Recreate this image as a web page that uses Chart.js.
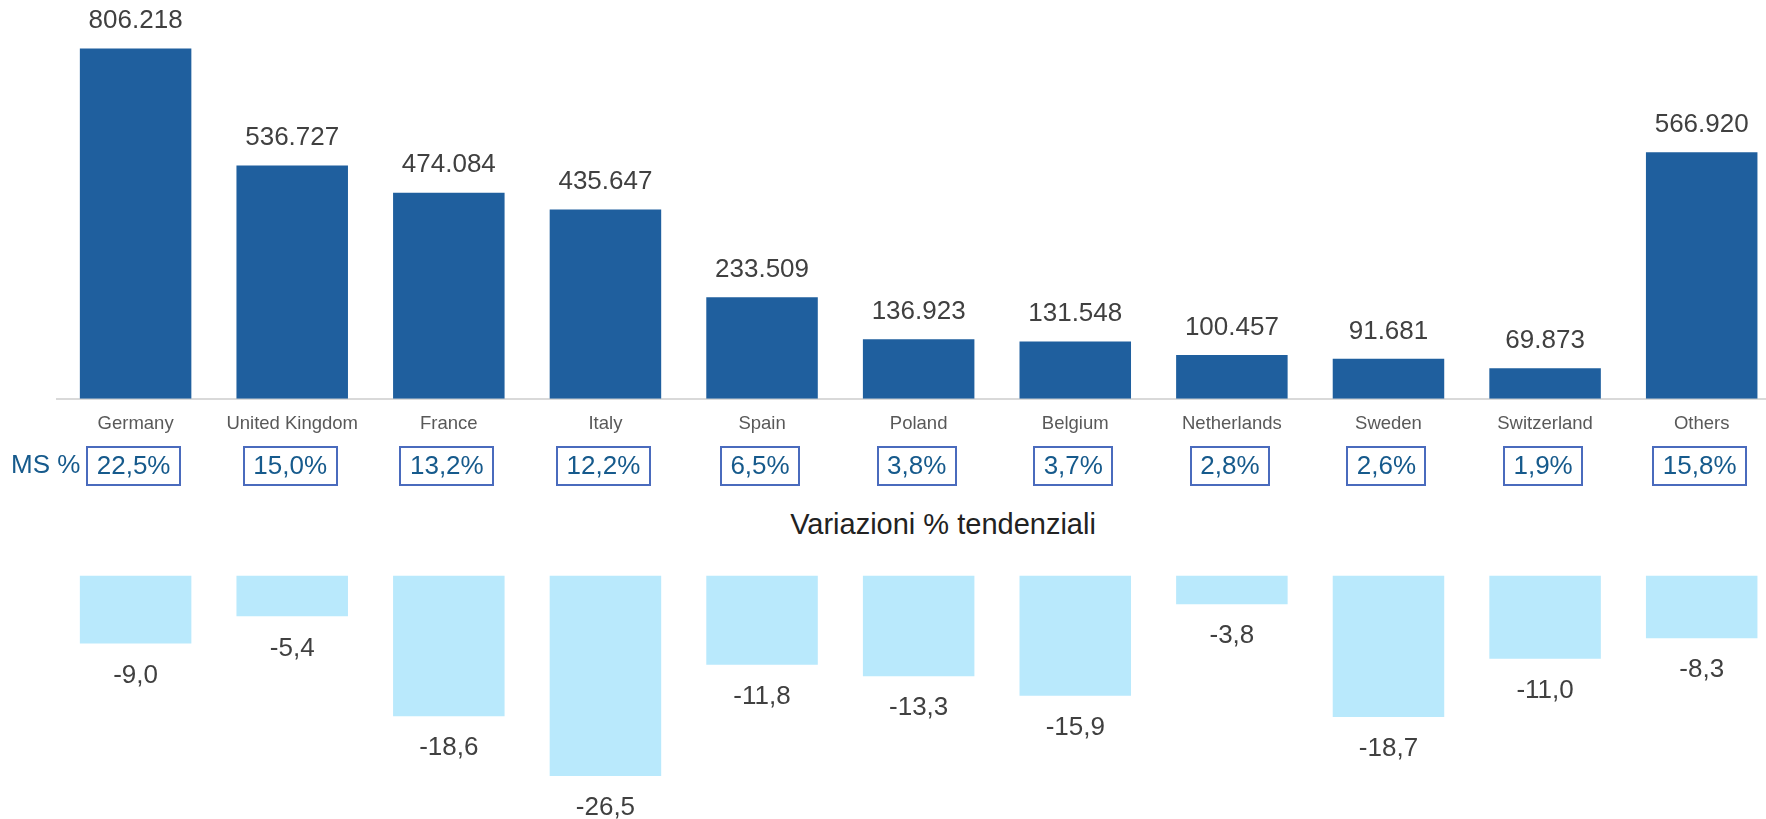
<!DOCTYPE html>
<html>
<head>
<meta charset="utf-8">
<script src="https://cdn.jsdelivr.net/npm/chart.js@4"></script>
<style>
  html, body { margin: 0; padding: 0; background: #fff; }
  #wrap { position: relative; width: 1766px; height: 819px; overflow: hidden; background: #fff; }
  #topChart { position: absolute; left: 0; top: 0; }
  #bottomChart { position: absolute; left: 0; top: 540px; }
  #subtitle {
    position: absolute; left: 643px; top: 507px; width: 600px; text-align: center;
    font-family: "Liberation Sans", Arial, sans-serif; font-size: 29px; line-height: 34px; color: #222;
  }
</style>
</head>
<body>
<div id="wrap">
  <canvas id="topChart" width="1780" height="500"></canvas>
  <div id="subtitle">Variazioni % tendenziali</div>
  <canvas id="bottomChart" width="1780" height="279"></canvas>
</div>
<script>
// data
const countries = ["Germany", "United Kingdom", "France", "Italy", "Spain", "Poland",
  "Belgium", "Netherlands", "Sweden", "Switzerland", "Others"];
const registrations = [806218, 536727, 474084, 435647, 233509, 136923, 131548, 100457, 91681, 69873, 566920];
const marketShare = [22.5, 15.0, 13.2, 12.2, 6.5, 3.8, 3.7, 2.8, 2.6, 1.9, 15.8];
const variation = [-9.0, -5.4, -18.6, -26.5, -11.8, -13.3, -15.9, -3.8, -18.7, -11.0, -8.3];

const FONT = '"Liberation Sans", Arial, sans-serif';

// 806218 -> "806.218"
function fmtThousands(v) {
  return String(v).replace(/\B(?=(\d{3})+(?!\d))/g, ".");
}
// -9 -> "-9,0"
function fmtDecimal(v) {
  return v.toFixed(1).replace(".", ",");
}

// value labels above the dark bars
const topLabels = {
  id: "topLabels",
  afterDatasetsDraw(chart) {
    const ctx = chart.ctx;
    const meta = chart.getDatasetMeta(0);
    ctx.save();
    ctx.font = "26px " + FONT;
    ctx.fillStyle = "#404040";
    ctx.textAlign = "center";
    ctx.textBaseline = "middle";
    meta.data.forEach((bar, i) => {
      ctx.fillText(fmtThousands(registrations[i]), bar.x, bar.y - 27.5);
    });
    ctx.restore();
  }
};

// MS % boxes under the category labels
const shareBoxes = {
  id: "shareBoxes",
  afterDraw(chart) {
    const ctx = chart.ctx;
    const xs = chart.scales.x;
    const y = 466;
    ctx.save();
    ctx.font = "26px " + FONT;
    ctx.textBaseline = "middle";
    ctx.fillStyle = "#165a8c";
    ctx.textAlign = "left";
    ctx.fillText("MS %", 11, y);
    ctx.textAlign = "center";
    marketShare.forEach((v, i) => {
      const txt = fmtDecimal(v) + "%";
      const x = xs.getPixelForValue(i) - 2;
      const w = ctx.measureText(txt).width + 19;
      ctx.strokeStyle = "#4a6bbd";
      ctx.lineWidth = 2;
      ctx.strokeRect(Math.round(x - w / 2), y - 19, Math.round(w), 38);
      ctx.fillStyle = "#165a8c";
      ctx.fillText(txt, x, y + 1);
    });
    ctx.restore();
  }
};

// value labels under the light bars
const bottomLabels = {
  id: "bottomLabels",
  afterDatasetsDraw(chart) {
    const ctx = chart.ctx;
    const meta = chart.getDatasetMeta(0);
    ctx.save();
    ctx.font = "26px " + FONT;
    ctx.fillStyle = "#404040";
    ctx.textAlign = "center";
    ctx.textBaseline = "middle";
    meta.data.forEach((bar, i) => {
      ctx.fillText(fmtDecimal(variation[i]), bar.x, bar.y + 32);
    });
    ctx.restore();
  }
};

const topChart = new Chart(document.getElementById("topChart").getContext("2d"), {
  type: "bar",
  data: {
    labels: countries,
    datasets: [{
      data: registrations,
      backgroundColor: "#1f5f9e",
      categoryPercentage: 1,
      barPercentage: 0.712
    }]
  },
  options: {
    responsive: false,
    animation: false,
    layout: { padding: { left: 57.3, right: 0, top: 0, bottom: 0 } },
    plugins: { legend: { display: false }, tooltip: { enabled: false } },
    scales: {
      x: {
        grid: { display: false, drawTicks: false },
        border: { display: true, color: "#d9d9d9", width: 2 },
        ticks: { color: "#595959", font: { family: FONT, size: 18.5 }, padding: 14, maxRotation: 0, autoSkip: false },
        afterFit(scale) { scale.height = 101.3; }
      },
      y: { display: false, min: 0, max: 917600 }
    }
  },
  plugins: [topLabels, shareBoxes]
});

const bottomChart = new Chart(document.getElementById("bottomChart").getContext("2d"), {
  type: "bar",
  data: {
    labels: countries,
    datasets: [{
      data: variation,
      backgroundColor: "#b9e9fc",
      categoryPercentage: 1,
      barPercentage: 0.712
    }]
  },
  options: {
    responsive: false,
    animation: false,
    layout: { padding: { left: 57.3, right: 0, top: 35.5, bottom: 0 } },
    plugins: { legend: { display: false }, tooltip: { enabled: false } },
    scales: {
      x: { display: false },
      y: { display: false, min: -32.17, max: 0 }
    }
  },
  plugins: [bottomLabels]
});
</script>
</body>
</html>
